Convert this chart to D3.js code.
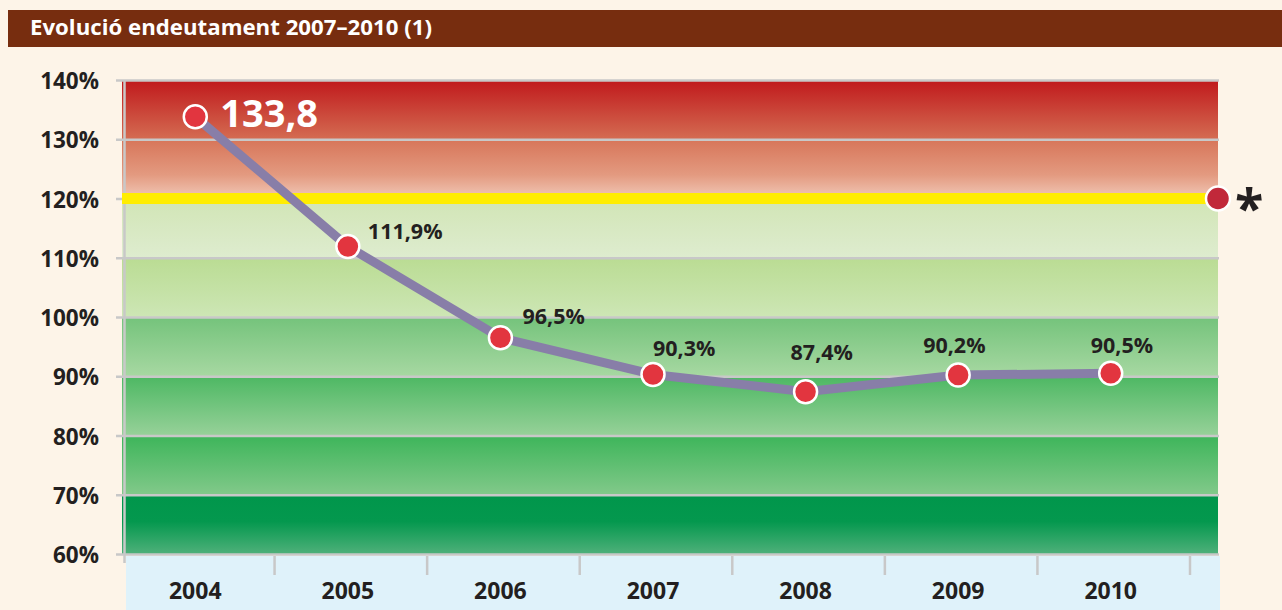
<!DOCTYPE html>
<html>
<head>
<meta charset="utf-8">
<script src="https://cdn.jsdelivr.net/npm/d3@7"></script>
<style>
  body { margin: 0; background: #fdf4e8; }
  svg { display: block; }
  text { font-family: "Open Sans", Lato, sans-serif; font-weight: 700; }
</style>
</head>
<body>
<div id="main"></div>
<script>
// data
var years = ["2004", "2005", "2006", "2007", "2008", "2009", "2010"];
var debt = [133.8, 111.9, 96.5, 90.3, 87.4, 90.2, 90.5];
var debtLabels = ["133,8", "111,9%", "96,5%", "90,3%", "87,4%", "90,2%", "90,5%"];
var yTicks = [60, 70, 80, 90, 100, 110, 120, 130, 140];
var zoneBreaks = [60, 70, 80, 90, 100, 110, 120, 130, 140];
var legalLimit = 120;
var title = "Evolució endeutament 2007–2010 (1)";

var ctx = {
    w: 1282,
    h: 610,
    left: 122,
    right: 1218,
    top: 80,
    bottom: 554,
};

// gradient colours for each 10% zone, bottom zone first
var zoneColors = [
    [["0", "#00964b"], ["0.45", "#04984e"], ["1", "#4fb07a"]],
    [["0", "#3db55a"], ["1", "#82c98a"]],
    [["0", "#4db863"], ["1", "#97d199"]],
    [["0", "#74c37b"], ["1", "#a7d8a2"]],
    [["0", "#badc93"], ["1", "#cde6b5"]],
    [["0", "#d1e5b5"], ["1", "#deeccf"]],
    [["0", "#d77559"], ["0.6", "#e39a80"], ["1", "#f1c8b7"]],
    [["0", "#c0191c"], ["1", "#d46c52"]],
];
// label offsets from their point
var labelOffsets = [[25, 10], [20, -7], [22, -14], [0, -18], [-15, -32], [-35, -22], [-20, -20]];

var svg = d3.select("#main").append("svg")
    .attr("width", ctx.w)
    .attr("height", ctx.h);

var x = d3.scaleBand().domain(years).range([ctx.left, 1190]);
var y = d3.scaleLinear().domain([60, 140]).range([ctx.bottom, ctx.top]);

// title bar
svg.append("rect")
    .attr("x", 8).attr("y", 10)
    .attr("width", ctx.w - 8).attr("height", 37)
    .attr("fill", "#772d0f");
svg.append("text")
    .attr("x", 30).attr("y", 35)
    .attr("fill", "#ffffff")
    .attr("font-size", 21)
    .attr("textLength", 402)
    .attr("lengthAdjust", "spacingAndGlyphs")
    .text(title);

// x band background
svg.append("rect")
    .attr("x", 126).attr("y", 556)
    .attr("width", 1220 - 126).attr("height", ctx.h - 556)
    .attr("fill", "#dff2fa");

// zones
var defs = svg.append("defs");
var zones = d3.range(zoneBreaks.length - 1);
zones.forEach(function(i){
    var g = defs.append("linearGradient")
        .attr("id", "zone" + i)
        .attr("x1", 0).attr("y1", 0).attr("x2", 0).attr("y2", 1);
    zoneColors[i].forEach(function(s){
        g.append("stop").attr("offset", s[0]).attr("stop-color", s[1]);
    });
});
svg.append("g").selectAll("rect")
    .data(zones)
    .enter()
    .append("rect")
    .attr("x", ctx.left)
    .attr("y", function(i){ return y(zoneBreaks[i + 1]); })
    .attr("width", ctx.right - ctx.left)
    .attr("height", function(i){ return y(zoneBreaks[i]) - y(zoneBreaks[i + 1]); })
    .attr("fill", function(i){ return "url(#zone" + i + ")"; });

// y axis + gridlines
var yAxis = d3.axisLeft(y)
    .tickValues(yTicks)
    .tickFormat(function(d){ return d + "%"; })
    .tickSizeInner(-(1219 - 116))
    .tickSizeOuter(0)
    .tickPadding(17);
var yG = svg.append("g")
    .attr("transform", "translate(116,0)")
    .call(yAxis);
yG.select(".domain").remove();
yG.selectAll(".tick line")
    .attr("stroke", "#c8c8c8")
    .attr("stroke-width", 2.5);
yG.selectAll(".tick text")
    .attr("fill", "#231f20")
    .attr("font-size", 22.5)
    .attr("font-family", "'Open Sans', sans-serif")
    .attr("font-weight", 700)
    .attr("dy", "0.38em");

// vertical axis line
svg.append("line")
    .attr("x1", 124.5).attr("x2", 124.5)
    .attr("y1", ctx.top).attr("y2", y(60) + 9)
    .attr("stroke", "#c8c8c8")
    .attr("stroke-width", 2.5);

// yellow limit line
svg.append("line")
    .attr("x1", ctx.left).attr("x2", ctx.right)
    .attr("y1", y(legalLimit)).attr("y2", y(legalLimit))
    .attr("stroke", "#ffed00")
    .attr("stroke-width", 11);

// x axis
var xG = svg.append("g");
xG.selectAll("line.xtick")
    .data(years)
    .enter()
    .append("line")
    .attr("class", "xtick")
    .attr("x1", function(d){ return x(d) + x.bandwidth(); })
    .attr("x2", function(d){ return x(d) + x.bandwidth(); })
    .attr("y1", 556).attr("y2", 575)
    .attr("stroke", "#c8c8c8")
    .attr("stroke-width", 2.5);
xG.selectAll("text")
    .data(years)
    .enter()
    .append("text")
    .attr("x", function(d){ return x(d) + x.bandwidth() / 2 - 3; })
    .attr("y", 599)
    .attr("text-anchor", "middle")
    .attr("fill", "#231f20")
    .attr("font-size", 23)
    .text(function(d){ return d; });

// line
var pts = years.map(function(d, i){ return [x(d) + x.bandwidth() / 2 - 3, y(debt[i])]; });
svg.append("path")
    .attr("d", d3.line()(pts))
    .attr("fill", "none")
    .attr("stroke", "#887ea8")
    .attr("stroke-width", 9)
    .attr("stroke-linejoin", "round");

svg.append("g").selectAll("circle")
    .data(pts)
    .enter()
    .append("circle")
    .attr("cx", function(d){ return d[0]; })
    .attr("cy", function(d){ return d[1]; })
    .attr("r", 11.5)
    .attr("fill", "#e2353f")
    .attr("stroke", "#ffffff")
    .attr("stroke-width", 2.5);

// value labels
svg.append("g").selectAll("text")
    .data(pts)
    .enter()
    .append("text")
    .attr("x", function(d, i){ return d[0] + labelOffsets[i][0]; })
    .attr("y", function(d, i){ return d[1] + labelOffsets[i][1]; })
    .attr("fill", function(d, i){ return i === 0 ? "#ffffff" : "#231f20"; })
    .attr("font-size", function(d, i){ return i === 0 ? 38 : 21.5; })
    .text(function(d, i){ return debtLabels[i]; });

// limit marker
svg.append("circle")
    .attr("cx", ctx.right).attr("cy", y(legalLimit))
    .attr("r", 12)
    .attr("fill", "#c1283a")
    .attr("stroke", "#ffffff")
    .attr("stroke-width", 2.5);
svg.append("text")
    .attr("x", 1235).attr("y", y(legalLimit) + 28)
    .attr("fill", "#231f20")
    .attr("font-size", 52)
    .text("*");
</script>
</body>
</html>
